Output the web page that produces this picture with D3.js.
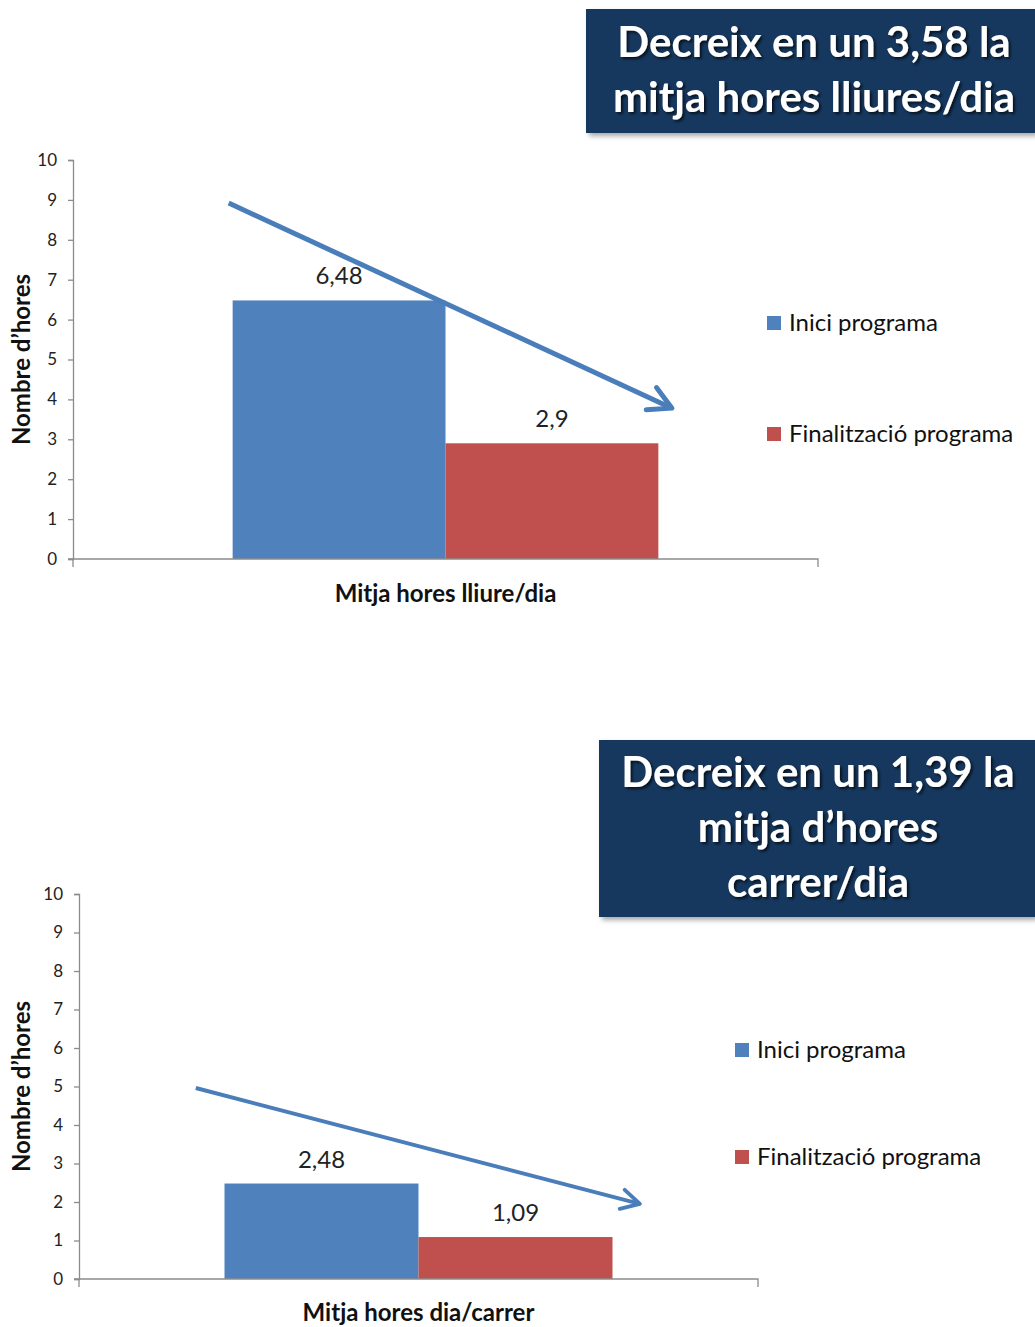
<!DOCTYPE html>
<html>
<head>
<meta charset="utf-8">
<script src="https://cdn.jsdelivr.net/npm/d3@7"></script>
<style>
  html, body { margin: 0; padding: 0; background: #fff; }
  svg { display: block; }
  text { font-family: Lato, "Open Sans", "DejaVu Sans", sans-serif; }
</style>
</head>
<body>
<svg id="chart" width="1035" height="1327"></svg>
<script>
// Series shared by both panels
const seriesNames = ["Inici programa", "Finalització programa"];
const seriesColors = ["#4F81BD", "#C0504D"];

// Panel 1: free hours per day
const categories1 = ["Mitja hores lliure/dia"];
const values1 = [6.48, 2.9];
const headline1 = ["Decreix en un 3,58 la", "mitja hores lliures/dia"];
// trend arrow: [fraction across plot, hours]
const trend1 = [[0.209, 8.92], [0.804, 3.78]];

// Panel 2: street hours per day
const categories2 = ["Mitja hores dia/carrer"];
const values2 = [2.48, 1.09];
const headline2 = ["Decreix en un 1,39 la", "mitja d\u2019hores", "carrer/dia"];
const trend2 = [[0.172, 4.96], [0.826, 1.95]];

const yTicks = [0, 1, 2, 3, 4, 5, 6, 7, 8, 9, 10];
const yTitle = "Nombre d\u2019hores";

const fmt = d3.formatLocale({ decimal: ",", thousands: ".", grouping: [3], currency: ["", ""] }).format("~g");

const svg = d3.select("#chart");

// Shadows for the headline boxes and text
const defs = svg.append("defs");
const boxShadow = defs.append("filter").attr("id", "boxShadow")
  .attr("x", "-5%").attr("y", "-5%").attr("width", "115%").attr("height", "120%");
boxShadow.append("feDropShadow").attr("dx", 3).attr("dy", 3).attr("stdDeviation", 2.5)
  .attr("flood-color", "#000").attr("flood-opacity", 0.35);
const textShadow = defs.append("filter").attr("id", "textShadow")
  .attr("x", "-5%").attr("y", "-20%").attr("width", "115%").attr("height", "150%");
textShadow.append("feDropShadow").attr("dx", 2).attr("dy", 2).attr("stdDeviation", 1.5)
  .attr("flood-color", "#000").attr("flood-opacity", 0.7);

defs.append("marker").attr("id", "chevron")
  .attr("viewBox", "0 0 10 10").attr("refX", 9).attr("refY", 5)
  .attr("markerWidth", 7).attr("markerHeight", 7).attr("orient", "auto")
  .attr("markerUnits", "strokeWidth")
  .append("path").attr("d", "M2.5,1.5 L9,5 L2.5,8.5")
  .attr("fill", "none").attr("stroke", "#4A7EBB").attr("stroke-width", 1.4)
  .attr("stroke-linecap", "round").attr("stroke-linejoin", "round");

function drawPanel(cfg) {
  const g = svg.append("g");
  const { left, right, top, bottom } = cfg.plot;

  const x0 = d3.scaleBand().domain(cfg.categories).range([left, right])
    .paddingInner(0).paddingOuter(0.375);
  const x1 = d3.scaleBand().domain(seriesNames).range([0, x0.bandwidth()]);
  const y = d3.scaleLinear().domain([0, 10]).range([bottom, top]);
  const fx = d3.scaleLinear().domain([0, 1]).range([left, right]);

  // Y axis
  const yAxis = g.append("g").attr("transform", `translate(${left},0)`)
    .call(d3.axisLeft(y).tickValues(yTicks).tickSize(5).tickPadding(11).tickFormat(d3.format("d")));
  yAxis.selectAll("path, line").attr("stroke", "#8C8C8C").attr("stroke-width", 1.3);
  yAxis.selectAll("text").attr("font-size", 17).attr("fill", "#222");

  // Bars
  const data = seriesNames.map((s, i) => ({ cat: cfg.categories[0], series: s, value: cfg.values[i], color: seriesColors[i] }));
  g.selectAll("rect.bar").data(data).join("rect").attr("class", "bar")
    .attr("x", d => x0(d.cat) + x1(d.series))
    .attr("width", x1.bandwidth())
    .attr("y", d => y(d.value))
    .attr("height", d => y(0) - y(d.value))
    .attr("fill", d => d.color);

  // Value labels
  g.selectAll("text.val").data(data).join("text").attr("class", "val")
    .attr("x", d => x0(d.cat) + x1(d.series) + x1.bandwidth() / 2)
    .attr("y", d => y(d.value) - 16)
    .attr("text-anchor", "middle").attr("font-size", 24).attr("fill", "#222")
    .text(d => fmt(d.value));

  // X axis
  const xAxis = g.append("g").attr("transform", `translate(0,${bottom})`);
  xAxis.append("path")
    .attr("d", `M${left - 5},0H${right}V8`)
    .attr("fill", "none").attr("stroke", "#8C8C8C").attr("stroke-width", 1.3);
  xAxis.append("line").attr("x1", left).attr("x2", left).attr("y1", 0).attr("y2", 8)
    .attr("stroke", "#8C8C8C").attr("stroke-width", 1.3);
  xAxis.append("text")
    .attr("x", x0(cfg.categories[0]) + x0.bandwidth() / 2)
    .attr("y", cfg.xTitleOffset)
    .attr("text-anchor", "middle").attr("font-size", 24).attr("font-weight", 700).attr("fill", "#111")
    .text(cfg.categories[0]);

  // Y title
  g.append("text")
    .attr("transform", `translate(${cfg.yTitleX},${(top + bottom) / 2}) rotate(-90)`)
    .attr("text-anchor", "middle").attr("font-size", 24).attr("font-weight", 700).attr("fill", "#111")
    .text(yTitle);

  // Trend arrow
  g.append("line")
    .attr("x1", fx(cfg.trend[0][0])).attr("y1", y(cfg.trend[0][1]))
    .attr("x2", fx(cfg.trend[1][0])).attr("y2", y(cfg.trend[1][1]))
    .attr("stroke", "#4A7EBB").attr("stroke-width", cfg.arrowWidth)
    .attr("marker-end", "url(#chevron)");

  // Legend
  const lg = g.append("g").attr("transform", `translate(${cfg.legend.x},0)`);
  seriesNames.forEach((s, i) => {
    const cy = cfg.legend.ys[i];
    lg.append("rect").attr("x", 0).attr("y", cy - 7).attr("width", 14).attr("height", 14)
      .attr("fill", seriesColors[i]);
    lg.append("text").attr("x", 22).attr("y", cy).attr("dy", "0.35em")
      .attr("font-size", 24).attr("fill", "#111").text(s);
  });

  // Headline box
  const hb = cfg.headline;
  g.append("rect").attr("x", hb.x).attr("y", hb.y).attr("width", hb.w).attr("height", hb.h)
    .attr("fill", "#17375E").attr("filter", "url(#boxShadow)");
  const ht = g.append("text").attr("text-anchor", "middle").attr("font-size", 42)
    .attr("font-weight", 700).attr("fill", "#fff").attr("filter", "url(#textShadow)");
  hb.lines.forEach((line, i) => {
    ht.append("tspan").attr("x", hb.cx).attr("y", hb.firstBaseline + i * hb.lineGap).text(line);
  });
}

drawPanel({
  categories: categories1, values: values1, trend: trend1, arrowWidth: 5,
  plot: { left: 73, right: 818, top: 160, bottom: 559 },
  xTitleOffset: 43, yTitleX: 30,
  legend: { x: 767, ys: [323, 434] },
  headline: { x: 586, y: 9, w: 449, h: 124, cx: 814, firstBaseline: 57, lineGap: 55, lines: headline1 }
});

drawPanel({
  categories: categories2, values: values2, trend: trend2, arrowWidth: 4,
  plot: { left: 79, right: 758, top: 894, bottom: 1279 },
  xTitleOffset: 42, yTitleX: 30,
  legend: { x: 735, ys: [1050, 1157] },
  headline: { x: 599, y: 740, w: 436, h: 177, cx: 818, firstBaseline: 787, lineGap: 55, lines: headline2 }
});
</script>
</body>
</html>
